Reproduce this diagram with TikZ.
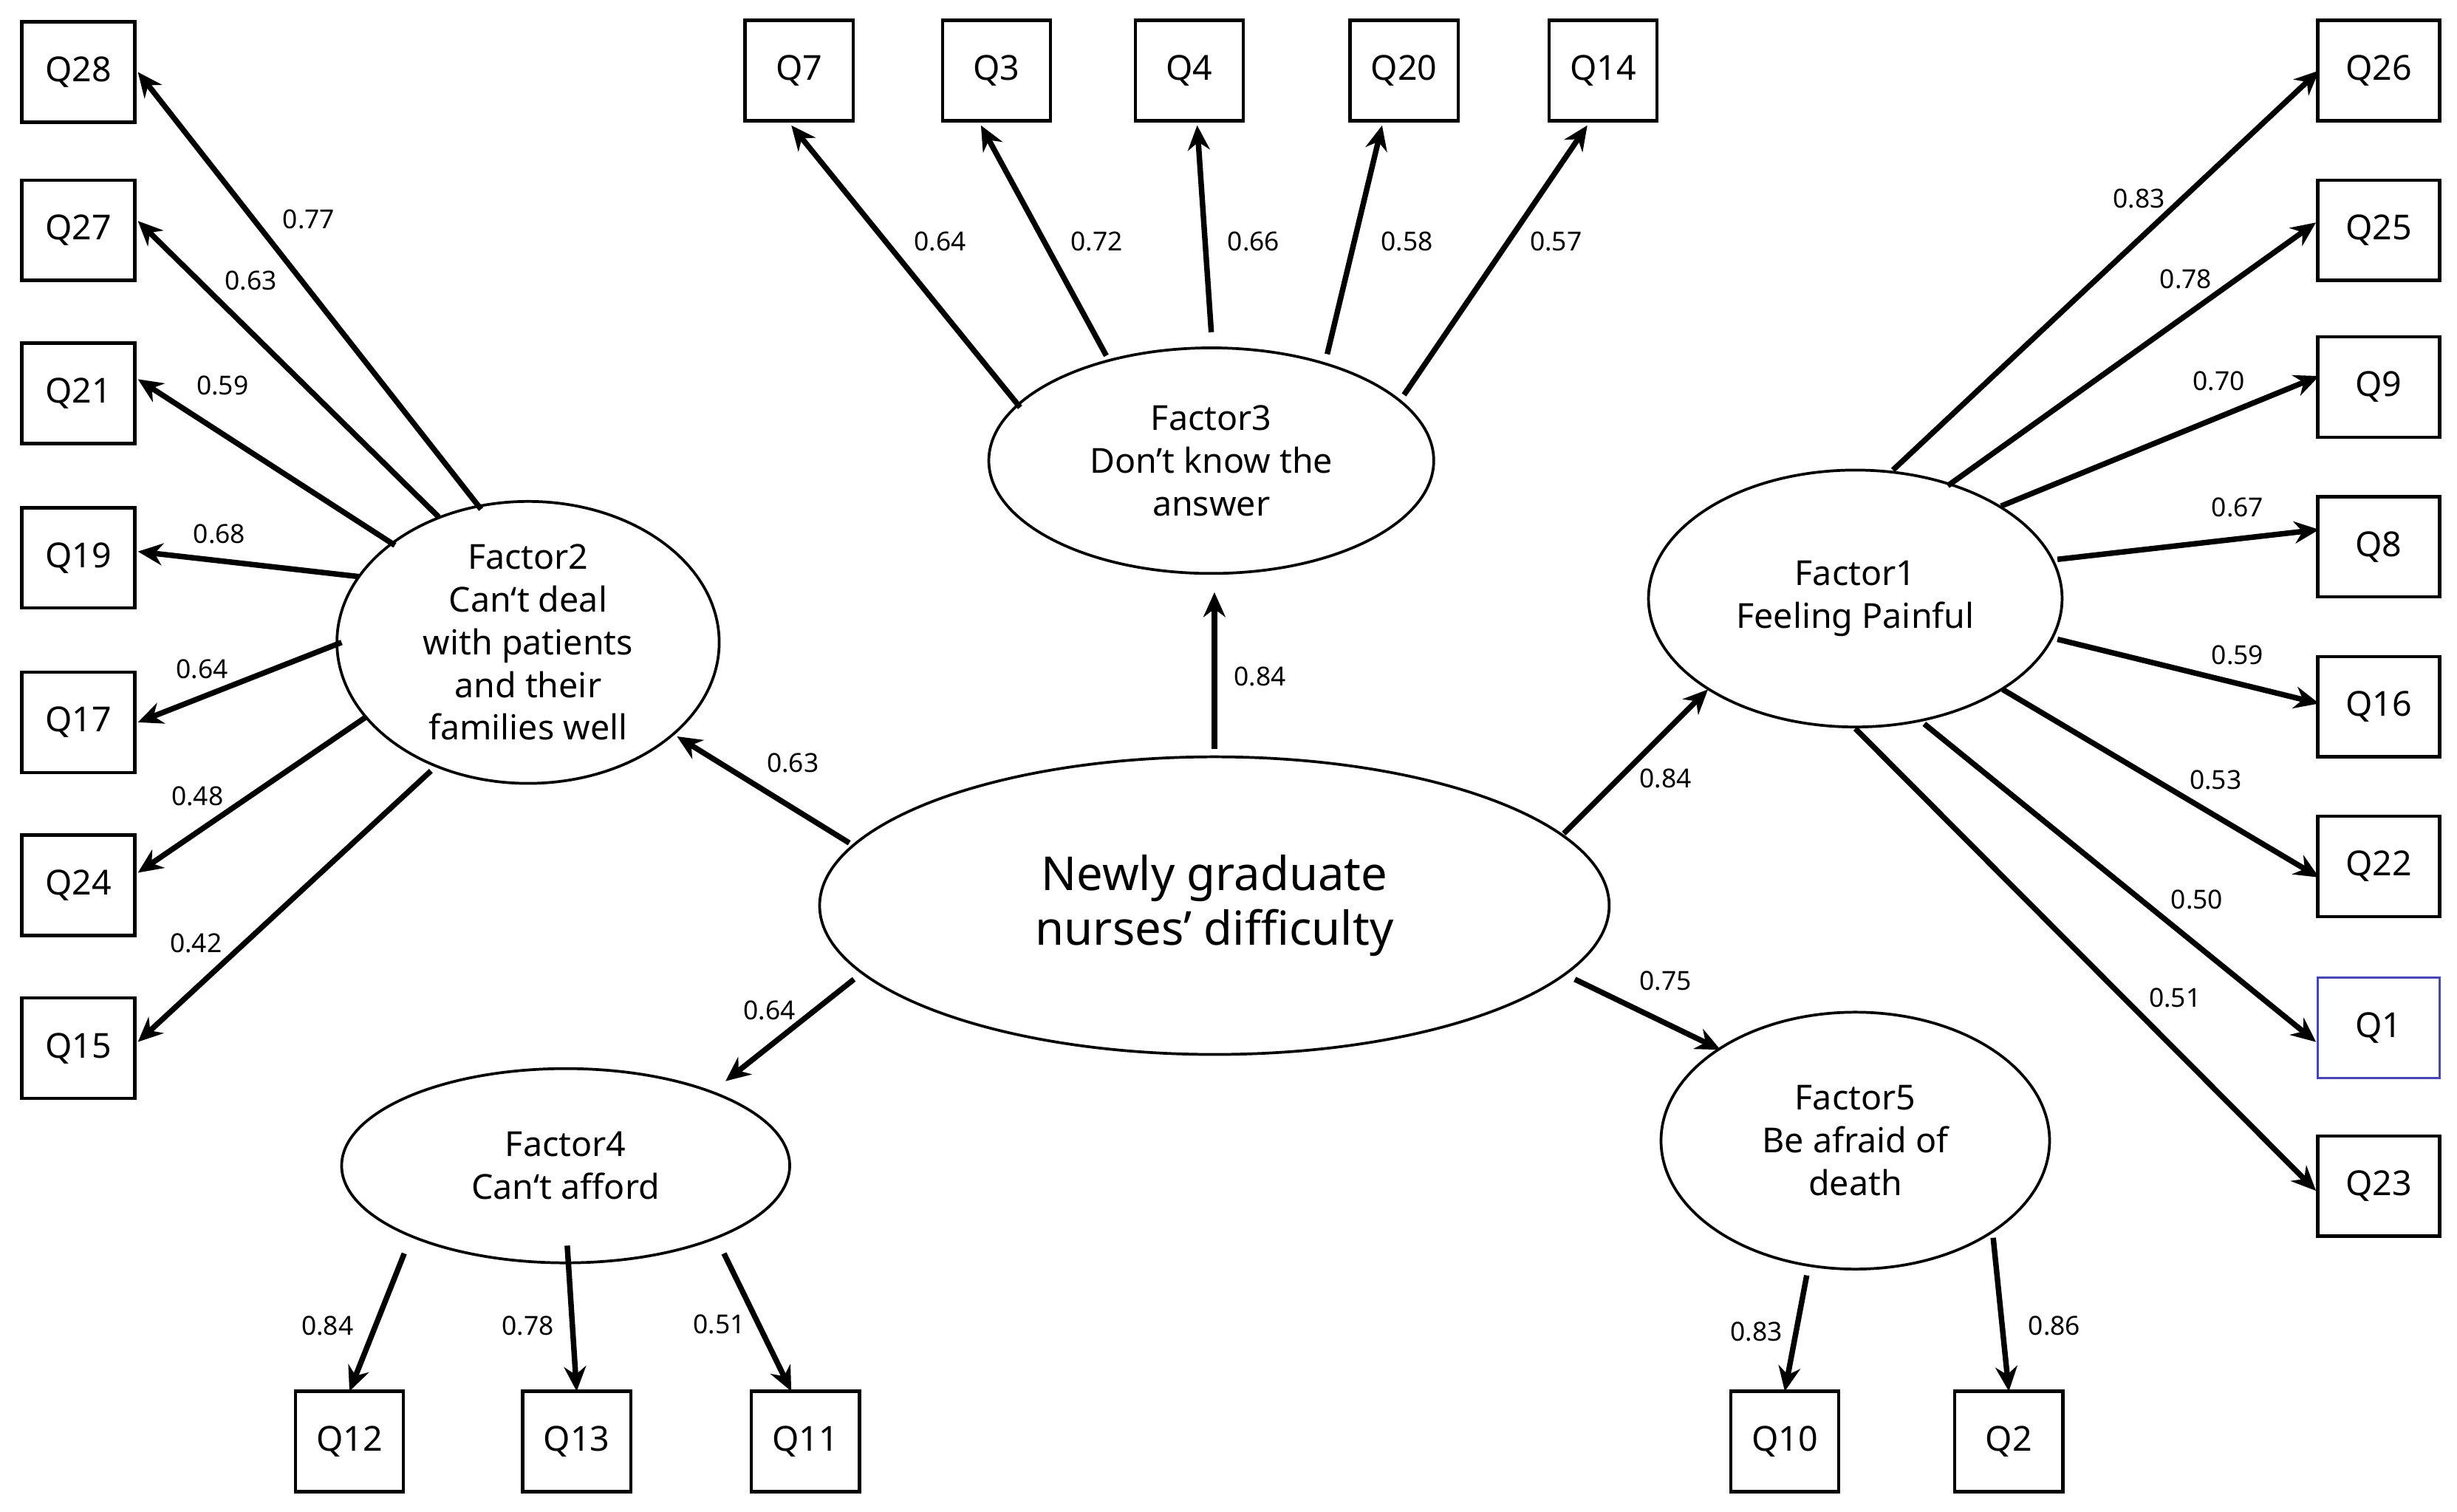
\documentclass[tikz,border=0pt]{standalone}
\usepackage{fontspec}
\setmainfont{Noto Sans}
\usetikzlibrary{shapes.geometric,arrows.meta}
\begin{document}
\begin{tikzpicture}[x=0.02cm,y=-0.02cm,
  box/.style={draw,line width=1.2pt,minimum width=1.38cm,minimum height=1.28cm,inner sep=0pt,font=\fontsize{12.5}{14}\selectfont},
  fac/.style={draw,ellipse,line width=1pt,inner sep=0pt,align=center,font=\fontsize{12.5}{15.5}\selectfont},
  arr/.style={line width=2pt,-{Stealth[length=9pt,width=8pt]}},
  lab/.style={font=\fontsize{9.5}{11}\selectfont,inner sep=0pt}]
\useasboundingbox (0,0) rectangle (1568,965);
% factors
\node[fac,minimum width=5.68cm,minimum height=2.88cm] (F3) at (773,294) {Factor3\\Don’t know the\\answer};
\node[fac,minimum width=4.88cm,minimum height=3.6cm] (F2) at (337,410) {Factor2\\Can‘t deal\\with patients\\and their\\families well};
\node[fac,minimum width=5.28cm,minimum height=3.28cm] (F1) at (1184,382) {Factor1\\Feeling Painful};
\node[fac,minimum width=10.08cm,minimum height=3.8cm,font=\fontsize{17}{20}\selectfont] (C) at (775,578) {Newly graduate\\nurses’ difficulty};
\node[fac,minimum width=5.72cm,minimum height=2.48cm] (F4) at (361,744) {Factor4\\Can‘t afford};
\node[fac,minimum width=4.96cm,minimum height=3.28cm] (F5) at (1184,728) {Factor5\\Be afraid of\\death};
% boxes
\foreach \n/\y in {Q28/46,Q27/147,Q21/251,Q19/356,Q17/461,Q24/565,Q15/669}
  \node[box,minimum width=1.44cm] (\n) at (50,\y) {\n};
\foreach \n/\x in {Q7/510,Q3/636,Q4/759,Q20/896,Q14/1023}
  \node[box] (\n) at (\x,45) {\n};
\foreach \n/\y in {Q26/45,Q25/147,Q9/247,Q8/349,Q16/451,Q22/553,Q23/757}
  \node[box,minimum width=1.56cm] (\n) at (1518,\y) {\n};
\node[box,minimum width=1.56cm,draw=blue!45!gray,line width=0.8pt] (Q1) at (1518,656) {Q1};
\foreach \n/\x in {Q12/223,Q13/368,Q11/514,Q10/1139,Q2/1282}
  \node[box] (\n) at (\x,920) {\n};
% arrows from factors to items
\foreach \q/\x/\y/\u/\v in {Q28/307/325/88/46,Q27/280/330/88/141,Q21/252/348/88/242,Q19/229/368/88/352,Q17/218/410/88/461,Q24/233/458/88/557,Q15/275/492/88/665,
  Q7/651/260/505/80,Q3/706/227/626/80,Q4/773/212/764/80,Q20/847/226/882/80,Q14/896/252/1013/80,
  Q26/1208/300/1480/45,Q25/1243/310/1478/142,Q9/1277/323/1480/240,Q8/1313/357/1480/338,Q16/1313/408/1480/449,Q22/1278/440/1480/560,Q1/1228/462/1478/665,Q23/1184/465/1478/760,
  Q12/258/800/223/888,Q13/362/795/368/888,Q11/462/800/505/888,Q10/1153/814/1139/888,Q2/1272/790/1282/888}
  {\coordinate (s\q) at (\x,\y); \coordinate (e\q) at (\u,\v); \draw[arr] (s\q) -- (e\q);}
% arrows from centre
\foreach \f/\ax/\ay/\bx/\by in {F3/775/478/775/378,F2/542/538/432/470,F1/998/532/1090/440,F4/545/625/463/690,F5/1005/625/1098/670}
  {\coordinate (a\f) at (\ax,\ay); \coordinate (b\f) at (\bx,\by); \draw[arr] (a\f) -- (b\f);}
% labels
\foreach \t/\x/\y [count=\i] in {0.77/197/140,0.63/160/179,0.59/142/246,0.68/140/341,0.64/129/427,0.48/126/508,0.42/125/602,
  0.64/600/154,0.72/700/154,0.66/800/154,0.58/898/154,0.57/993/154,
  0.83/1365/127,0.78/1395/178,0.70/1416/243,0.67/1428/324,0.59/1428/418,0.53/1414/498,0.50/1402/574,0.51/1388/637,
  0.84/804/432,0.63/506/487,0.84/1063/497,0.64/491/645,0.75/1063/626,
  0.84/209/846,0.78/337/846,0.51/459/845,0.83/1121/850,0.86/1311/846}
  \node[lab] (L\i) at (\x,\y) {\t};
\end{tikzpicture}
\end{document}
